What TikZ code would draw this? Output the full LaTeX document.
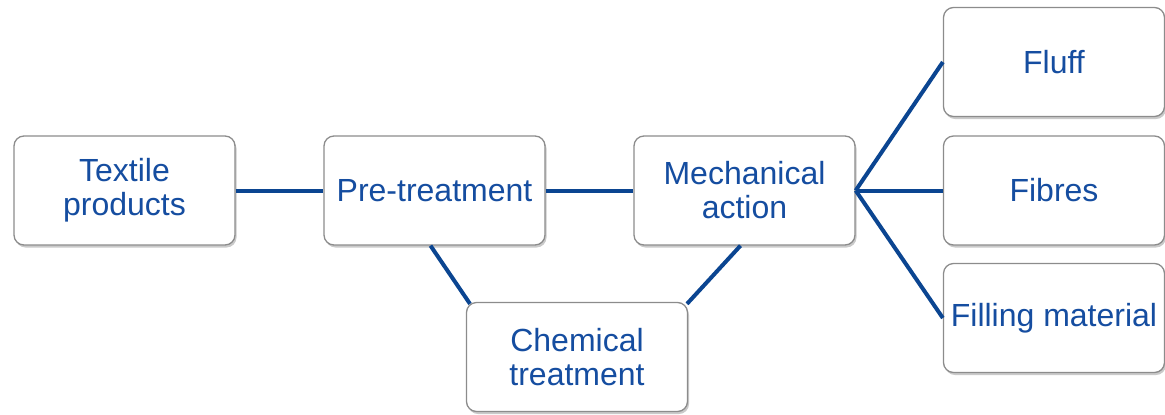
\documentclass[tikz,border=0pt]{standalone}
\usepackage{fontspec}
\setmainfont{Liberation Sans}
\usetikzlibrary{shadows}
\definecolor{txtblue}{HTML}{154DA0}
\definecolor{lineblue}{HTML}{0B4591}
\definecolor{boxgray}{HTML}{8C8C8C}
\begin{document}
\begin{tikzpicture}[x=1bp,y=-1bp,
  box/.style={draw=boxgray, line width=1.3bp, fill=white, rounded corners=10bp,
    minimum width=221bp, minimum height=109bp, inner sep=2bp,
    align=center, text=txtblue,
    font=\fontsize{32bp}{34bp}\selectfont,
    drop shadow={shadow xshift=1.5bp, shadow yshift=-2.5bp, opacity=0.35, fill=black!60}},
  conn/.style={draw=lineblue, line width=4bp}]
\useasboundingbox (0,0) rectangle (1165,414);
\node[box] (tex) at (124.5,190.5) {Textile\\products};
\node[box] (pre) at (434.5,190.5) {Pre-treatment};
\node[box] (mech) at (744.5,190.5) {Mechanical\\action};
\node[box] (chem) at (577,357) {Chemical\\treatment};
\node[box] (fluff) at (1054,62) {Fluff};
\node[box] (fib) at (1054,190.5) {Fibres};
\node[box] (fill) at (1054,318) {Filling material};
\draw[conn] (tex.east) -- (pre.west);
\draw[conn] (pre.east) -- (mech.west);
\draw[conn] (mech.east) -- (fluff.west);
\draw[conn] (mech.east) -- (fib.west);
\draw[conn] (mech.east) -- (fill.west);
\draw[conn] ([xshift=-4bp]pre.south) -- ([xshift=-107bp,yshift=-2bp]chem.north);
\draw[conn] ([xshift=-4bp]mech.south) -- ([xshift=110bp,yshift=-2bp]chem.north);
\end{tikzpicture}
\end{document}
